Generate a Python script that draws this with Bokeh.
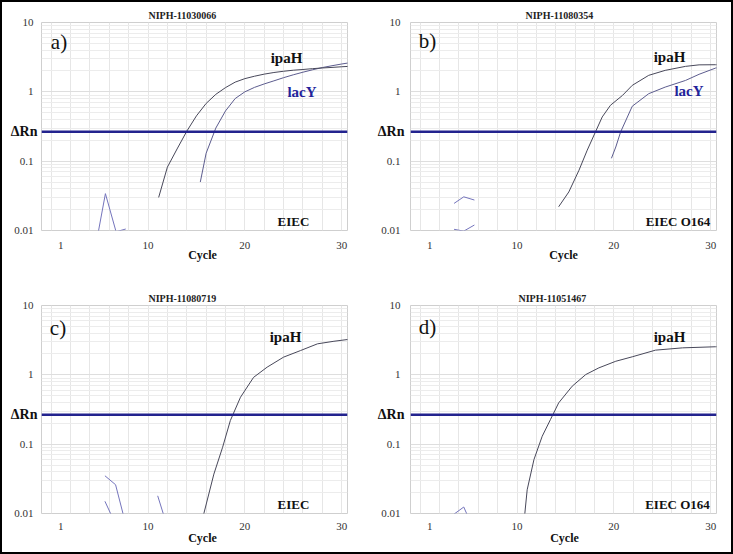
from bokeh.plotting import figure
from bokeh.layouts import column, row
from bokeh.models import Span, Label, FixedTicker, Range1d, LogAxis, LinearAxis, Spacer
from bokeh.embed import file_html
from bokeh.resources import INLINE

# ---------------- data ----------------
y_ticks = [0.01, 0.1, 1, 10]
y_tick_labels = ["0.01", "0.1", "1", "10"]
x_ticks = [1, 10, 20, 30]
x_tick_labels = ["1", "10", "20", "30"]
threshold = 0.265
threshold_label = "\u0394Rn"
x_label = "Cycle"

titles = ["NIPH-11030066", "NIPH-11080354", "NIPH-11080719", "NIPH-11051467"]
panel_letters = ["a)", "b)", "c)", "d)"]
strain_labels = ["EIEC", "EIEC O164", "EIEC", "EIEC O164"]

# panel a
a_ipaH_cycle = [11.1, 12, 13, 14, 15, 16, 17, 18, 19, 20, 21, 22, 23, 24, 25, 26, 27, 28, 29, 30, 31]
a_ipaH_rn = [0.030, 0.082, 0.15, 0.27, 0.45, 0.68, 0.92, 1.15, 1.38, 1.55, 1.68, 1.80, 1.90, 1.98,
             2.05, 2.10, 2.16, 2.21, 2.25, 2.30, 2.34]
a_lacY_cycle = [15.4, 16, 17, 18, 19, 20, 21, 22, 23, 24, 25, 26, 27, 28, 29, 30, 31]
a_lacY_rn = [0.05, 0.13, 0.30, 0.53, 0.80, 1.00, 1.16, 1.30, 1.44, 1.60, 1.76, 1.92, 2.08, 2.24,
             2.38, 2.52, 2.65]
a_noise_cycle = [4.6, 5.6, 6.7, 7.7]
a_noise_rn = [0.006, 0.034, 0.0096, 0.0105]

# panel b
b_ipaH_cycle = [14.3, 15.35, 16.4, 17.25, 18.1, 18.8, 19.65, 20.9, 21.9, 23.6, 25.3, 27.4, 28.8, 30.5, 31]
b_ipaH_rn = [0.022, 0.036, 0.074, 0.144, 0.264, 0.434, 0.64, 0.89, 1.24, 1.73, 2.04, 2.33, 2.45, 2.46, 2.46]
b_lacY_cycle = [19.75, 20.2, 20.7, 21.9, 23.6, 25.3, 27.4, 28.8, 30.5, 31]
b_lacY_rn = [0.11, 0.16, 0.264, 0.62, 0.94, 1.17, 1.46, 1.79, 2.2, 2.28]
b_noise1_cycle = [3.5, 4.5, 5.6]
b_noise1_rn = [0.0246, 0.0306, 0.0275]
b_noise2_cycle = [3.5, 4.5, 5.6]
b_noise2_rn = [0.0104, 0.0098, 0.012]

# panel c
c_ipaH_cycle = [15.75, 16.8, 17.7, 18.5, 19.55, 20.9, 22.3, 24.0, 25.75, 27.5, 29.2, 30.6, 31]
c_ipaH_rn = [0.0098, 0.037, 0.090, 0.219, 0.475, 0.92, 1.29, 1.80, 2.24, 2.80, 3.05, 3.23, 3.27]
c_noise1_cycle = [5.55, 6.65, 7.7]
c_noise1_rn = [0.035, 0.026, 0.007]
c_noise2_cycle = [5.55, 6.55]
c_noise2_rn = [0.015, 0.0075]
c_noise3_cycle = [11.0, 12.0]
c_noise3_rn = [0.018, 0.0064]

# panel d
d_ipaH_cycle = [10.8, 11.05, 11.75, 12.6, 13.45, 14.3, 15.7, 17.1, 18.45, 20.2, 21.9, 24.3, 27.1, 30.5, 31]
d_ipaH_rn = [0.0098, 0.022, 0.06, 0.13, 0.226, 0.394, 0.686, 1.01, 1.26, 1.57, 1.82, 2.27, 2.45, 2.54, 2.54]
d_noise_cycle = [3.5, 4.5, 5.5]
d_noise_rn = [0.0098, 0.0124, 0.006]

# ---------------- style ----------------
FONT = "Liberation Serif"
IPAH_COLOR = "#48485a"
LACY_COLOR = "#5c5c8e"
NOISE_COLOR = "#7474bc"
THRESH_COLOR = "#23238e"
LACY_TEXT = "#23239a"
X_START, X_END = -1, 30.6

minor_y = [m * 10.0 ** e for e in (-2, -1, 0) for m in range(2, 10)]
grid_x = [x * 2 for x in range(0, 16)]

# panel geometry + label positions (screen units, relative to frame bottom-left)
layouts = [
    dict(w=363, h=281, bl=39, br=18, bt=20, bb=53, ystand=8, xstand=11, cstand=-4, toff=107, cx=15.63,
         letter=(17.5, 188.5), ipah=(245, 172.5), lacy=(260.5, 139), strain=(252, 9)),
    dict(w=366, h=281, bl=45, br=15, bt=20, bb=53, ystand=10, xstand=11, cstand=-4, toff=115, cx=14.8,
         letter=(17, 190), ipah=(259, 173.5), lacy=(278.5, 140), strain=(267.5, 9.5)),
    dict(w=363, h=269, bl=39, br=18, bt=22, bb=39, ystand=8, xstand=9, cstand=-2, toff=107, cx=15.63,
         letter=(16.5, 185.5), ipah=(244, 177), lacy=None, strain=(252, 9)),
    dict(w=366, h=269, bl=45, br=15, bt=22, bb=39, ystand=10, xstand=9, cstand=-2, toff=108, cx=14.9,
         letter=(17, 186.5), ipah=(259, 177), lacy=None, strain=(267, 9)),
]

series = [
    dict(ipah=(a_ipaH_cycle, a_ipaH_rn), lacy=(a_lacY_cycle, a_lacY_rn),
         noise=[(a_noise_cycle, a_noise_rn)]),
    dict(ipah=(b_ipaH_cycle, b_ipaH_rn), lacy=(b_lacY_cycle, b_lacY_rn),
         noise=[(b_noise1_cycle, b_noise1_rn), (b_noise2_cycle, b_noise2_rn)]),
    dict(ipah=(c_ipaH_cycle, c_ipaH_rn), lacy=None,
         noise=[(c_noise1_cycle, c_noise1_rn), (c_noise2_cycle, c_noise2_rn), (c_noise3_cycle, c_noise3_rn)]),
    dict(ipah=(d_ipaH_cycle, d_ipaH_rn), lacy=None,
         noise=[(d_noise_cycle, d_noise_rn)]),
]


def lab(p, pos, text, size, bold=True, color="#111111"):
    p.add_layout(Label(x=pos[0], y=pos[1], x_units="screen", y_units="screen", text=text,
                       text_font=FONT, text_font_size=size,
                       text_font_style="bold" if bold else "normal",
                       text_color=color, text_align="center", text_baseline="middle"))


def plain_axis(ax, size, bold=False, color="#333333"):
    ax.axis_line_color = None
    ax.major_tick_line_color = None
    ax.minor_tick_line_color = None
    ax.major_tick_out = 0
    ax.major_tick_in = 0
    ax.minor_tick_out = 0
    ax.minor_tick_in = 0
    ax.major_label_text_font = FONT
    ax.major_label_text_font_size = size
    ax.major_label_text_font_style = "bold" if bold else "normal"
    ax.major_label_text_color = color


def make_panel(i):
    L = layouts[i]
    S = series[i]
    p = figure(width=L["w"], height=L["h"], x_range=Range1d(X_START, X_END), y_range=Range1d(0.01, 10),
               y_axis_type="log", output_backend="svg", toolbar_location=None,
               min_border_left=L["bl"], min_border_right=L["br"],
               min_border_top=L["bt"], min_border_bottom=L["bb"])
    p.outline_line_color = "#cfcfcf"
    p.outline_line_width = 1
    p.background_fill_color = "white"
    p.border_fill_color = "white"

    # title
    p.title.text = titles[i]
    p.title.text_font = FONT
    p.title.text_font_size = "10px"
    p.title.text_font_style = "bold"
    p.title.text_color = "#222222"
    p.title.align = "left"
    p.title.vertical_align = "middle"
    p.title.standoff = 1
    p.title.offset = L["toff"]

    # main axes
    p.xaxis.ticker = FixedTicker(ticks=x_ticks)
    p.xaxis.major_label_overrides = dict(zip(x_ticks, x_tick_labels))
    p.yaxis.ticker = FixedTicker(ticks=y_ticks)
    p.yaxis.major_label_overrides = dict(zip(y_ticks, y_tick_labels))
    plain_axis(p.xaxis[0], "11px")
    plain_axis(p.yaxis[0], "11px")
    p.xaxis.major_label_standoff = L["xstand"]
    p.yaxis.major_label_standoff = L["ystand"]

    # "Cycle" as an outer bottom axis with one labelled tick
    cyc = LinearAxis(ticker=FixedTicker(ticks=[L["cx"]]), major_label_overrides={L["cx"]: x_label},
                     major_label_standoff=L["cstand"])
    plain_axis(cyc, "12px", bold=True, color="#111111")
    p.add_layout(cyc, "below")

    # threshold label as an outer left axis with one labelled tick
    drn = LogAxis(ticker=FixedTicker(ticks=[threshold]),
                  major_label_overrides={threshold: threshold_label},
                  major_label_standoff=-26)
    plain_axis(drn, "14px", bold=True, color="#111111")
    p.add_layout(drn, "left")

    # grids
    p.xgrid.ticker = FixedTicker(ticks=grid_x)
    p.xgrid.grid_line_color = "#e6e6e6"
    p.ygrid.ticker = FixedTicker(ticks=y_ticks, minor_ticks=minor_y)
    p.ygrid.grid_line_color = "#dedede"
    p.ygrid.minor_grid_line_color = "#ececec"

    # curves
    for nx, ny in S["noise"]:
        p.line(nx, ny, line_color=NOISE_COLOR, line_width=1)
    if S["lacy"] is not None:
        p.line(S["lacy"][0], S["lacy"][1], line_color=LACY_COLOR, line_width=1)
    p.line(S["ipah"][0], S["ipah"][1], line_color=IPAH_COLOR, line_width=1)

    p.add_layout(Span(location=threshold, dimension="width", line_color=THRESH_COLOR, line_width=2.5))

    # texts inside the plot area
    lab(p, L["letter"], panel_letters[i], "21px", bold=False)
    lab(p, L["ipah"], "ipaH", "15px")
    if L["lacy"] is not None:
        lab(p, L["lacy"], "lacY", "15px", color=LACY_TEXT)
    lab(p, L["strain"], strain_labels[i], "13px")
    return p


figs = [make_panel(i) for i in range(4)]
inner = column(row(figs[0], figs[1]), row(figs[2], figs[3]),
               styles={"background-color": "white"})
layout = column(
    Spacer(width=733, height=2),
    row(Spacer(width=2, height=550), inner, Spacer(width=2, height=550)),
    Spacer(width=733, height=2),
    styles={"background-color": "black"},
)

open("out.html", "w").write(file_html(layout, INLINE))
